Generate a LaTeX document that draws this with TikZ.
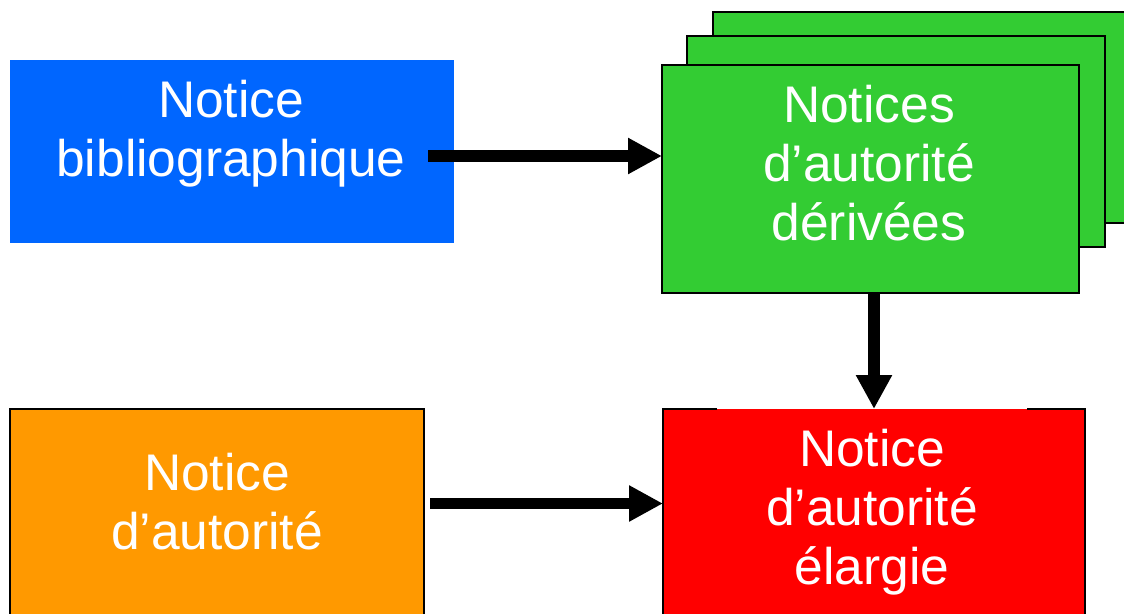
\documentclass[tikz,border=0pt]{standalone}
\usepackage{fontspec}
\setmainfont{Liberation Sans}
\usetikzlibrary{arrows.meta,calc}
\definecolor{cblue}{HTML}{0066FF}
\definecolor{cgreen}{HTML}{33CC33}
\definecolor{cred}{HTML}{FF0000}
\definecolor{corange}{HTML}{FF9900}
\begin{document}
\begin{tikzpicture}[x=1pt,y=-1pt,
  box/.style={rectangle, inner sep=0pt, outer sep=0pt, anchor=north west},
  gbox/.style={box, fill=cgreen, draw=black, line width=2pt},
  lbl/.style={text=white, align=center, font=\fontsize{51.5}{59}\selectfont, anchor=base, inner sep=0pt},
  conn/.style={line width=11.5pt, -{Triangle[length=34pt,width=34pt]}}]
\useasboundingbox (0,0) rectangle (1124,613);
\clip (0,0) rectangle (1124,613);
% blue box
\node[box, fill=cblue, minimum width=444pt, minimum height=183pt] (biblio) at (10,60) {};
\node[lbl] (tbiblio) at (231,176) {Notice\\bibliographique};
% green stack
\node[gbox, minimum width=418pt, minimum height=211pt] (gback) at (713,12) {};
\node[gbox, minimum width=418pt, minimum height=211pt] (gmid) at (687,36) {};
\node[gbox, minimum width=417pt, minimum height=228pt] (gfront) at (662,65) {};
\node[lbl] (tderiv) at (869,240) {Notices\\d’autorité\\dérivées};
% orange box
\node[box, fill=corange, draw=black, line width=1.3pt, minimum width=414pt, minimum height=230pt] (autor) at (10,409) {};
\node[lbl] (tautor) at (217,549) {Notice\\d’autorité};
% red box
\node[box, fill=cred, minimum width=422pt, minimum height=230pt] (elargie) at (663,409) {};
\draw[line width=1.3pt] ($(elargie.north west)+(54,0)$) -- (elargie.north west) -- (elargie.south west);
\draw[line width=1.3pt] ($(elargie.north east)+(-58,0)$) -- (elargie.north east) -- (elargie.south east);
\node[lbl] (telargie) at (872,584) {Notice\\d’autorité\\élargie};
% connectors
\coordinate (s1) at (428,156);
\draw[conn] (s1) -- (s1 -| gfront.west);
\draw[conn] (gfront.south -| elargie.north) -- (elargie.north);
\coordinate (s3) at (430,503.5);
\draw[conn] (s3) -- (s3 -| elargie.west);
\end{tikzpicture}
\end{document}
